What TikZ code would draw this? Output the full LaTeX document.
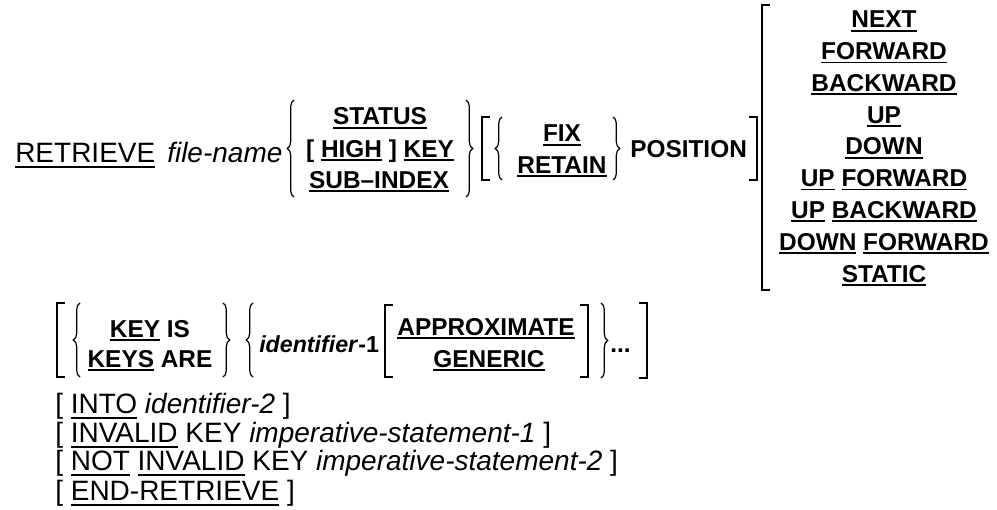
\documentclass[tikz,border=0pt]{standalone}
\usepackage{fontspec}
\setmainfont{Liberation Sans}
\usetikzlibrary{decorations.pathreplacing}
\newsavebox\ulbox
\newcommand\ulr[1]{\sbox\ulbox{#1}\rlap{\rule[-4.2pt]{\wd\ulbox}{1.4pt}}\usebox\ulbox}
\newcommand\ulb[1]{\sbox\ulbox{#1}\rlap{\rule[-2.8pt]{\wd\ulbox}{1.4pt}}\usebox\ulbox}
\tikzset{
  reg/.style={font=\fontsize{21}{25}\selectfont, inner sep=0pt, anchor=base west},
  bld/.style={font=\fontsize{18.3}{22}\selectfont\bfseries, inner sep=0pt, anchor=base},
  bldw/.style={bld, anchor=base west},
  brk/.style={line width=1.1pt},
  brc/.style={line width=0.9pt, decorate, decoration={brace, amplitude=5pt}}
}
\begin{document}
\begin{tikzpicture}[x=0.75pt, y=-0.75pt]
\useasboundingbox (0,0) rectangle (997,510);
% ---- row 1
\node[reg] (retrieve) at (15,162) {\ulr{RETRIEVE}};
\node[reg] (filename) at (167,162) {\itshape file-name};
\coordinate (b1t) at (294,100); \coordinate (b1b) at (294,197);
\draw[brc] (b1b) -- (b1t);
\node[bld] (status) at (380,125) {\ulb{STATUS}};
\node[bld] (highkey) at (380,157) {[ \ulb{HIGH} ] \ulb{KEY}};
\node[bld] (subindex) at (379,188) {\ulb{SUB\textendash INDEX}};
\coordinate (b2t) at (466,100); \coordinate (b2b) at (466,197);
\draw[brc] (b2t) -- (b2b);
% optional FIX/RETAIN POSITION
\coordinate (s1t) at (482,117); \coordinate (s1b) at (482,180);
\draw[brk] ([xshift=6]s1t) -- (s1t) -- (s1b) -- ([xshift=6]s1b);
\coordinate (b3t) at (502,117); \coordinate (b3b) at (502,180);
\draw[brc] (b3b) -- (b3t);
\node[bld] (fix) at (562,142) {\ulb{FIX}};
\node[bld] (retain) at (562,173) {\ulb{RETAIN}};
\coordinate (b4t) at (613,117); \coordinate (b4b) at (613,180);
\draw[brc] (b4t) -- (b4b);
\node[bldw] (position) at (630,157) {POSITION};
\coordinate (s2t) at (757,117); \coordinate (s2b) at (757,180);
\draw[brk] ([xshift=-6]s2t) -- (s2t) -- (s2b) -- ([xshift=-6]s2b);
% big bracket column
\coordinate (s3t) at (762,5); \coordinate (s3b) at (762,290);
\draw[brk] ([xshift=6]s3t) -- (s3t) -- (s3b) -- ([xshift=6]s3b);
\node[bld] (next) at (884,28) {\ulb{NEXT}};
\node[bld] (fwd) at (884,59.75) {\ulb{FORWARD}};
\node[bld] (bwd) at (884,91.5) {\ulb{BACKWARD}};
\node[bld] (up) at (884,123.25) {\ulb{UP}};
\node[bld] (down) at (884,155) {\ulb{DOWN}};
\node[bld] (upfwd) at (884,186.75) {\ulb{UP} \ulb{FORWARD}};
\node[bld] (upbwd) at (884,218.5) {\ulb{UP} \ulb{BACKWARD}};
\node[bld] (downfwd) at (884,250.25) {\ulb{DOWN} \ulb{FORWARD}};
\node[bld] (static) at (884,282) {\ulb{STATIC}};
% ---- row 2
\coordinate (s4t) at (57,303); \coordinate (s4b) at (57,377);
\draw[brk] ([xshift=6]s4t) -- (s4t) -- (s4b) -- ([xshift=6]s4b);
\coordinate (b5t) at (80,303); \coordinate (b5b) at (80,377);
\draw[brc] (b5b) -- (b5t);
\node[bld] (keyis) at (150,337) {\ulb{KEY} IS};
\node[bld] (keysare) at (150,367) {\ulb{KEYS} ARE};
\coordinate (b6t) at (223,303); \coordinate (b6b) at (223,377);
\draw[brc] (b6t) -- (b6b);
\coordinate (b7t) at (253,303); \coordinate (b7b) at (253,377);
\draw[brc] (b7b) -- (b7t);
\node[bldw, font=\fontsize{17.4}{21}\selectfont\bfseries] (ident1) at (259,352) {\textit{identifier}-1};
\coordinate (s5t) at (385,305); \coordinate (s5b) at (385,377);
\draw[brk] ([xshift=6]s5t) -- (s5t) -- (s5b) -- ([xshift=6]s5b);
\node[bld] (approx) at (486,335) {\ulb{APPROXIMATE}};
\node[bld] (generic) at (489,367) {\ulb{GENERIC}};
\coordinate (s6t) at (588,305); \coordinate (s6b) at (588,377);
\draw[brk] ([xshift=-6]s6t) -- (s6t) -- (s6b) -- ([xshift=-6]s6b);
\coordinate (b8t) at (601,303); \coordinate (b8b) at (601,378);
\draw[brc] (b8t) -- (b8b);
\node[bldw] (dots) at (610,352) {...};
\coordinate (s7t) at (647,303); \coordinate (s7b) at (647,378);
\draw[brk] ([xshift=-6]s7t) -- (s7t) -- (s7b) -- ([xshift=-6]s7b);
% ---- remaining lines
\node[reg] (into) at (55,413) {[ \ulr{INTO} \textit{identifier-2} ]};
\node[reg] (invalid) at (55,442) {[ \ulr{INVALID} KEY \textit{imperative-statement-1} ]};
\node[reg] (notinvalid) at (55,470) {[ \ulr{NOT} \ulr{INVALID} KEY \textit{imperative-statement-2} ]};
\node[reg] (endret) at (55,500) {[ \ulr{END-RETRIEVE} ]};
\end{tikzpicture}
\end{document}
